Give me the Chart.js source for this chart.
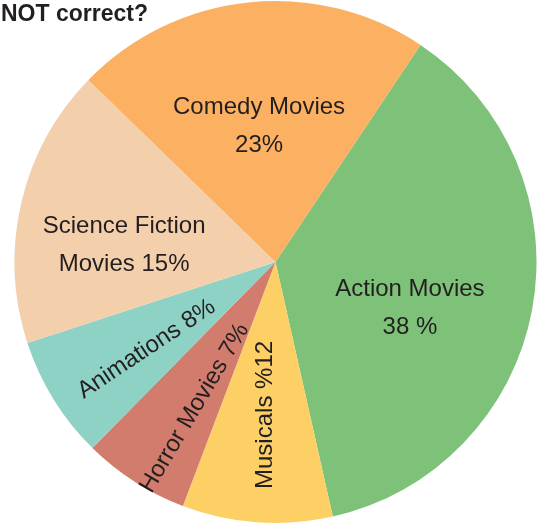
<!DOCTYPE html>
<html>
<head>
<meta charset="utf-8">
<script src="https://cdn.jsdelivr.net/npm/chart.js@4.4.0/dist/chart.umd.min.js"></script>
<style>
  html, body { margin: 0; padding: 0; background: #fff; }
  .wrap { position: relative; width: 542px; height: 525px; }
  .title {
    position: absolute; left: 1px; top: 0px;
    font: bold 23px "Liberation Sans", Arial, sans-serif;
    color: #231f20; line-height: 26px; z-index: 2;
  }
  canvas { position: absolute; left: 0; top: 0; }
</style>
</head>
<body>
<div class="wrap">
  <div class="title">NOT correct?</div>
  <canvas id="pie" width="542" height="525"></canvas>
</div>
<script>
// slices, clockwise from the green/orange boundary
const categories = ['Action Movies', 'Musicals', 'Horror Movies', 'Animations', 'Science Fiction Movies', 'Comedy Movies'];
const shares = [37.1, 9.3, 6.6, 7.6, 17.3, 22.1];
const sliceLabels = [
    ['Action Movies', '38 %'],
    ['Musicals %12'],
    ['Horror Movies 7%'],
    ['Animations 8%'],
    ['Science Fiction', 'Movies 15%'],
    ['Comedy Movies', '23%']
];
const colors = ['#7ec179', '#fdd066', '#d27c6d', '#8ed2c6', '#f3cfab', '#fbb062'];

// label placement: offset from centre in units of radius, and text angle (deg)
const labelPlace = [
    { fx: 0.515, fy: 0.176, rot: 0 },
    { fx: -0.040, fy: 0.586, rot: -90 },
    { fx: -0.310, fy: 0.560, rot: -59.5 },
    { fx: -0.494, fy: 0.334, rot: -33.7 },
    { fx: -0.580, fy: -0.065, rot: 0 },
    { fx: -0.063, fy: -0.521, rot: 0 }
];

const sliceText = {
    id: 'sliceText',
    afterDatasetsDraw(chart) {
        const ctx = chart.ctx;
        const arcs = chart.getDatasetMeta(0).data;
        ctx.save();
        ctx.fillStyle = '#231f20';
        ctx.font = '24px "Liberation Sans", Arial, sans-serif';
        ctx.textAlign = 'center';
        ctx.textBaseline = 'middle';
        arcs.forEach((arc, i) => {
            const p = labelPlace[i];
            const r = arc.outerRadius;
            const lines = sliceLabels[i];
            ctx.save();
            ctx.translate(arc.x + p.fx * r, arc.y + p.fy * r);
            ctx.rotate(p.rot * Math.PI / 180);
            const lh = 38;
            lines.forEach((t, k) => {
                ctx.fillText(t, 0, (k - (lines.length - 1) / 2) * lh);
            });
            ctx.restore();
        });
        ctx.restore();
    }
};

new Chart(document.getElementById('pie'), {
    type: 'pie',
    data: {
        labels: categories,
        datasets: [{
            data: shares,
            backgroundColor: colors,
            borderWidth: 0
        }]
    },
    options: {
        responsive: false,
        animation: false,
        rotation: 33.75,
        layout: { padding: { left: 14.5, right: 5.5, top: 1, bottom: 2 } },
        plugins: { legend: { display: false }, tooltip: { enabled: false } }
    },
    plugins: [sliceText]
});
</script>
</body>
</html>
